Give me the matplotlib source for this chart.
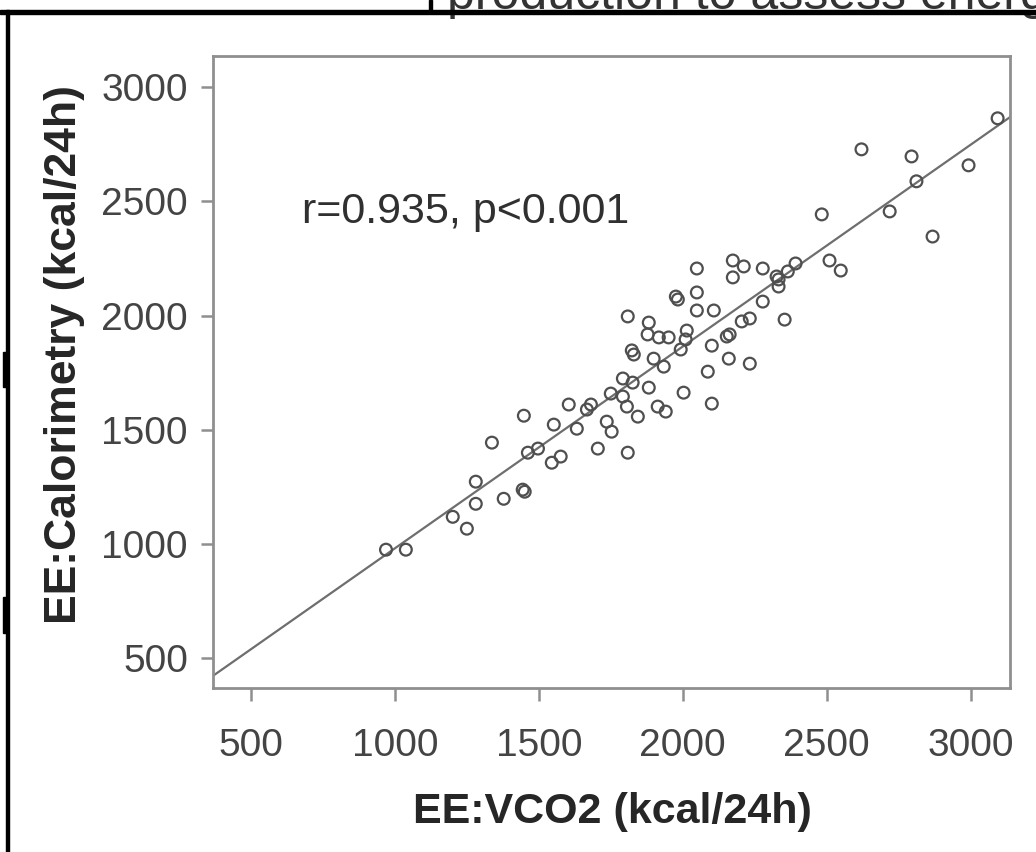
import matplotlib
matplotlib.use("Agg")
import matplotlib.pyplot as plt
from matplotlib.patches import Rectangle
import numpy as np

# ---- data ----
ee_vco2 = [969, 1038, 1201, 1250, 1281, 1281, 1337, 1378, 1444, 1451, 1448, 1462,
           1497, 1545, 1576, 1552, 1604, 1632, 1667, 1681, 1705, 1736, 1753, 1750,
           1792, 1826, 1806, 1844, 1809, 1792, 1882, 1913, 1941, 2003, 2101, 1823,
           1830, 1899, 1934, 1809, 1882, 1878, 1917, 1951, 2014, 2010, 1993, 2049,
           2174, 1976, 1983, 2049, 2049, 2108, 2174, 2212, 2278, 2326, 2333, 2365,
           2392, 2333, 2278, 2354, 2205, 2233, 2153, 2163, 2101, 2160, 2233, 2087,
           2510, 2549, 2621, 2795, 2993, 2812, 2719, 2483, 2868, 3094]
ee_calorimetry = [974, 974, 1118, 1066, 1272, 1175, 1443, 1197, 1237, 1228, 1561, 1399,
                  1417, 1355, 1382, 1522, 1610, 1504, 1588, 1610, 1417, 1535, 1491, 1658,
                  1724, 1706, 1601, 1557, 1399, 1645, 1684, 1601, 1579, 1662, 1614, 1847,
                  1829, 1811, 1776, 1996, 1969, 1917, 1904, 1904, 1934, 1895, 1851, 2206,
                  2167, 2083, 2070, 2101, 2022, 2022, 2241, 2215, 2206, 2171, 2158, 2193,
                  2228, 2127, 2061, 1982, 1974, 1987, 1908, 1917, 1868, 1811, 1789, 1754,
                  2241, 2197, 2728, 2697, 2658, 2588, 2456, 2443, 2346, 2864]
fit_slope = 0.884
fit_intercept = 96.0
annotation = "r=0.935, p<0.001"
x_ticks = [500, 1000, 1500, 2000, 2500, 3000]
y_ticks = [500, 1000, 1500, 2000, 2500, 3000]
x_label = "EE:VCO2 (kcal/24h)"
y_label = "EE:Calorimetry (kcal/24h)"
axis_lim = (368, 3137)

FONT = ["Liberation Sans", "DejaVu Sans"]
plt.rcParams["font.family"] = FONT

W, H = 1036, 852
fig = plt.figure(figsize=(W / 100, H / 100), dpi=100)
fig.patch.set_facecolor("white")

# axes placement (pixels)
left, right, top, bottom = 213, 1010, 56, 688
ax = fig.add_axes([left / W, 1 - bottom / H, (right - left) / W, (bottom - top) / H])

ax.set_xlim(*axis_lim)
ax.set_ylim(*axis_lim)

spine_col = "#8f8f8f"
for s in ax.spines.values():
    s.set_color(spine_col)
    s.set_linewidth(2.0)

# regression line
xs = np.array(axis_lim, dtype=float)
ax.plot(xs, fit_intercept + fit_slope * xs, color="#6e6e6e", lw=1.6, zorder=2)

# points
ax.scatter(ee_vco2, ee_calorimetry, s=72, facecolors="none", edgecolors="#4f4f4f",
           linewidths=1.6, zorder=3)

ax.set_xticks(x_ticks)
ax.set_yticks(y_ticks)
ax.tick_params(axis="both", direction="out", length=9, width=1.8, color=spine_col,
               labelsize=28, labelcolor="#444444")
ax.tick_params(axis="y", pad=9)
ax.tick_params(axis="x", pad=20)
ax.tick_params(top=False, right=False)

ax.set_xlabel(x_label, fontsize=31, fontweight="bold", color="#262626", va="center")
ax.set_ylabel(y_label, fontsize=32, fontweight="bold", color="#262626", va="center")
ax.xaxis.set_label_coords((612 - left) / (right - left), (bottom - 812) / (bottom - top))
ax.yaxis.set_label_coords((64 - left) / (right - left), (bottom - 355) / (bottom - top))

ax.text((466 - left) / (right - left), (bottom - 212) / (bottom - top), annotation,
        transform=ax.transAxes, fontsize=31, color="#303030", ha="center", va="center")

# ---- screenshot frame residue ----
fig.text(447 / W, 1 - 9 / H, "production to assess energ", fontsize=36, color="#333333",
         ha="left", va="baseline", zorder=1)
fig.add_artist(Rectangle((0, 1 - 14 / H), 1, 4 / H, transform=fig.transFigure,
                         color="black", zorder=5))
fig.add_artist(Rectangle((6 / W, 0), 3 / W, 1 - 10 / H, transform=fig.transFigure,
                         color="black", zorder=5))
fig.add_artist(Rectangle((429 / W, 1 - 12 / H), 3 / W, 12 / H, transform=fig.transFigure,
                         color="black", zorder=5))
fig.add_artist(Rectangle((3 / W, 1 - 387 / H), 5 / W, 35 / H, transform=fig.transFigure,
                         color="black", zorder=5))
fig.add_artist(Rectangle((3 / W, 1 - 633 / H), 5 / W, 36 / H, transform=fig.transFigure,
                         color="black", zorder=5))

fig.savefig("out.png", dpi=100, facecolor="white")
